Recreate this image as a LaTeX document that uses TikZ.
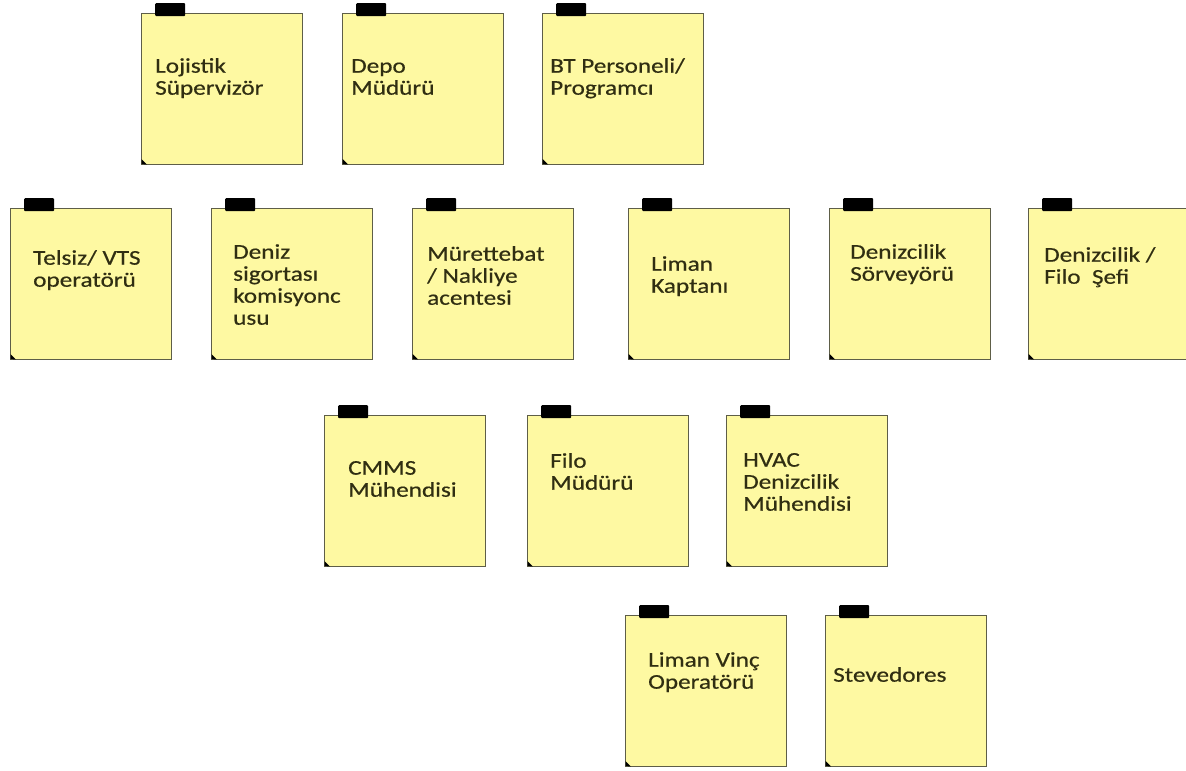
\documentclass[tikz,border=0pt]{standalone}
\usepackage{fontspec}
\newfontfamily\notefont{Carlito}[FakeStretch=1.2,FakeBold=0.5]
\definecolor{notefill}{HTML}{FEF9A2}
\definecolor{noteedge}{HTML}{5E5E48}
\definecolor{notetext}{HTML}{302E12}
\tikzset{
  stickynote/.style={draw=noteedge, line width=0.8pt, fill=notefill,
    minimum width=161pt, minimum height=151pt, anchor=north west,
    inner sep=0pt, outer sep=0pt},
  tapestrip/.style={fill=black, rounded corners=1pt, minimum width=30pt,
    minimum height=13pt, anchor=north west, inner sep=0pt, draw=none},
  notelabel/.style={font=\notefont\fontsize{21}{22}\selectfont,
    text=notetext, align=left, anchor=north west, inner sep=0pt},
}
% #1 name, #2/#3 top-left corner of the note, #4/#5 left edge and cap top of the text, #6 text
\newcommand\stickynote[6]{%
  \node[stickynote] (#1) at (#2,#3) {};
  \node[tapestrip] (#1-tape) at (#2+14,#3-10) {};
  \fill[black] (#2+0.5,#3+151) -- (#2+6,#3+151.5) -- (#2+0.5,#3+146) -- cycle;
  \node[notelabel] (#1-text) at (#4,#5-3.5) {\rule{0pt}{17pt}#6};
}
\begin{document}
\begin{tikzpicture}[x=1pt,y=-1pt]
  \fill[white] (0,0) rectangle (1186,771);
  \useasboundingbox (0,0) rectangle (1186,771);
  \begin{scope}
    \clip (0,0) rectangle (1186,771);
    % first row
    \stickynote{loj}{141}{13}{155}{59}{Lojistik\\Süpervizör}
    \stickynote{depo}{342}{13}{351}{59}{Depo\\Müdürü}
    \stickynote{bt}{542}{13}{550}{59}{BT Personeli/\\Programcı}
    % second row
    \stickynote{telsiz}{10}{208}{33}{251}{Telsiz/ VTS\\operatörü}
    \stickynote{sigorta}{211}{208}{233}{245}{Deniz\\sigortası\\komisyonc\\usu}
    \stickynote{murettebat}{412}{208}{427}{247}{Mürettebat\\/ Nakliye\\acentesi}
    \stickynote{kaptan}{628}{208}{651}{257}{Liman\\Kaptanı}
    \stickynote{sorvey}{829}{208}{850}{245}{Denizcilik\\Sörveyörü}
    \stickynote{filosefi}{1028}{208}{1044}{248}{Denizcilik /\\Filo\ \ Şefi}
    % third row
    \stickynote{cmms}{324}{415}{348}{461}{CMMS\\Mühendisi}
    \stickynote{filo}{527}{415}{550}{454}{Filo\\Müdürü}
    \stickynote{hvac}{726}{415}{743}{453}{HVAC\\Denizcilik\\Mühendisi}
    % fourth row
    \stickynote{vinc}{625}{615}{648}{653}{Liman Vinç\\Operatörü}
    \stickynote{stev}{825}{615}{833}{668}{Stevedores}
  \end{scope}
\end{tikzpicture}
\end{document}
